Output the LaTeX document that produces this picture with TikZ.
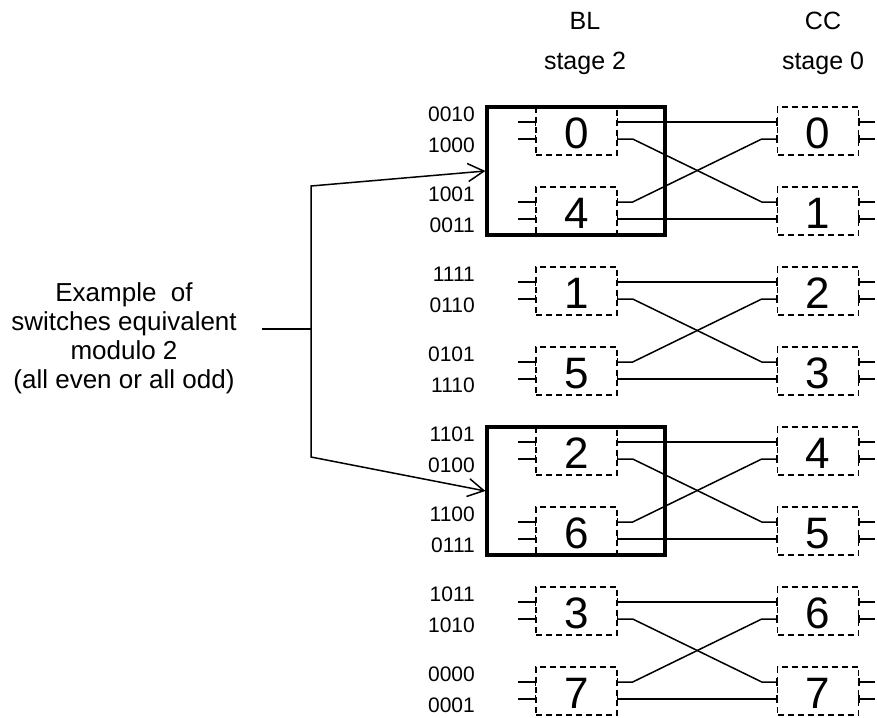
\documentclass[tikz,border=0pt]{standalone}
\usepackage{fontspec}
\setmainfont{Liberation Sans}
\usetikzlibrary{arrows.meta}
\begin{document}
\begin{tikzpicture}[x=1pt, y=-1pt, >={Straight Barb[length=16pt,width=18pt]}]
\tikzset{
    swbox/.style={draw, dash pattern=on 6pt off 4pt, line width=1.4pt, minimum width=81pt, minimum height=48pt,
        inner sep=0pt, font=\fontsize{44}{44}\selectfont, text height=34pt, text depth=0pt},
    groupbox/.style={draw, line width=3.2pt, minimum width=178pt, minimum height=128pt, inner sep=0pt},
    addr/.style={anchor=east, inner sep=0pt, font=\fontsize{21}{21}\selectfont},
    head/.style={font=\fontsize{25}{25}\selectfont},
    wire/.style={line width=1.5pt}
}
\useasboundingbox (0,0) rectangle (877,717);

% column headings
\node[head] (bl)   at (585,21) {BL};
\node[head] (blst) at (585,63) {stage 2};
\node[head] (cc)   at (823,21) {CC};
\node[head] (ccst) at (823,63) {stage 0};

% switches of both stages
\foreach \k/\n in {0/0,1/4,2/1,3/5,4/2,5/6,6/3,7/7} {
    \node[swbox] (L\n) at (576.5,{131+80*\k}) {\n};
    \node[swbox] (R\k) at (818,{131+80*\k}) {\k};
}

% ports, ticks and free stubs
\foreach \n in {0,...,7} {
    \foreach \s in {L,R} {
        \coordinate (\s\n-it) at ([yshift=9pt]\s\n.west);
        \coordinate (\s\n-ib) at ([yshift=-8pt]\s\n.west);
        \coordinate (\s\n-ot) at ([yshift=9pt]\s\n.east);
        \coordinate (\s\n-ob) at ([yshift=-8pt]\s\n.east);
        \foreach \p in {it,ib,ot,ob}
            \draw[wire] ([yshift=4pt]\s\n-\p) -- ([yshift=-4pt]\s\n-\p);
    }
    \coordinate (L\n-xt) at ([xshift=-17pt]L\n-it);
    \coordinate (L\n-xb) at ([xshift=-17pt]L\n-ib);
    \coordinate (R\n-xt) at ([xshift=16pt]R\n-ot);
    \coordinate (R\n-xb) at ([xshift=16pt]R\n-ob);
    \draw[wire] (L\n-xt) -- (L\n-it);
    \draw[wire] (L\n-xb) -- (L\n-ib);
    \draw[wire] (R\n-ot) -- (R\n-xt);
    \draw[wire] (R\n-ob) -- (R\n-xb);
}

% links between the stages
\foreach \g [evaluate=\g as \b using int(\g+4), evaluate=\g as \r using int(2*\g),
             evaluate=\g as \q using int(2*\g+1)] in {0,...,3} {
    \draw[wire] (L\g-ot) -- (R\r-it);
    \draw[wire] (L\g-ob) -- ([xshift=15pt]L\g-ob) -- ([xshift=-15pt]R\q-it) -- (R\q-it);
    \draw[wire] (L\b-ot) -- ([xshift=15pt]L\b-ot) -- ([xshift=-15pt]R\r-ib) -- (R\r-ib);
    \draw[wire] (L\b-ob) -- (R\q-ib);
}

% addresses
\foreach \g/\aa/\ab/\ac/\ad in {0/0010/1000/1001/0011, 1/1111/0110/0101/1110,
                                2/1101/0100/1100/0111, 3/1011/1010/0000/0001} {
    \node[addr] (a\g-1) at (475,{114.5+160*\g}) {\aa};
    \node[addr] (a\g-2) at (475,{145.5+160*\g}) {\ab};
    \node[addr] (a\g-3) at (475,{194.5+160*\g}) {\ac};
    \node[addr] (a\g-4) at (475,{225+160*\g}) {\ad};
}

% equivalent switches
\node[groupbox] (G0) at (576,171) {};
\node[groupbox] (G2) at (576,491) {};

\node[align=center, font=\fontsize{26}{29}\selectfont] (note) at (124,338)
    {Example\ \ of\\switches equivalent\\modulo 2\\(all even or all odd)};
\coordinate (jin)  at (262,329);
\coordinate (jmid) at (311,329);
\coordinate (jtop) at (311,186);
\coordinate (jbot) at (311,457);
\draw[wire] (jin) -- (jmid);
\draw[wire, ->] (jmid) -- (jtop) -- (G0.west);
\draw[wire, ->] (jmid) -- (jbot) -- (G2.west);
\end{tikzpicture}
\end{document}
